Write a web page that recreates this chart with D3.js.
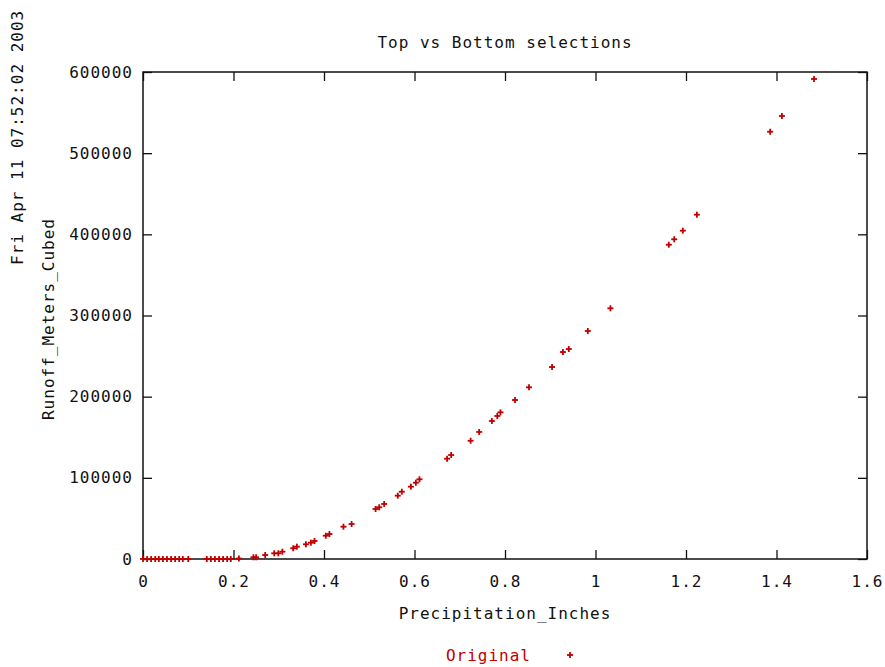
<!DOCTYPE html>
<html>
<head>
<meta charset="utf-8">
<script src="https://cdn.jsdelivr.net/npm/d3@7"></script>
<style>
    body { margin: 0; background: #fff; }
    svg text { font-family: "DejaVu Sans Mono", "Liberation Mono", monospace; font-size: 16px; letter-spacing: 1px; fill: #111; }
</style>
</head>
<body>
<svg id="chart" width="885" height="667"></svg>
<script>
// precipitation (inches) and runoff (m^3)
const precipInches = [
    0, 0.009, 0.018, 0.027, 0.035, 0.044, 0.053, 0.062, 0.071, 0.080, 0.088, 0.100,
    0.141, 0.150, 0.159, 0.168, 0.177, 0.186, 0.194, 0.212,
    0.244, 0.250, 0.270, 0.290, 0.299, 0.308, 0.332, 0.340, 0.360, 0.371, 0.379,
    0.404, 0.412, 0.443, 0.461, 0.514, 0.522, 0.533,
    0.563, 0.572, 0.592, 0.603, 0.611, 0.672, 0.681, 0.724, 0.743, 0.771, 0.783, 0.790,
    0.822, 0.853, 0.904, 0.928, 0.941, 0.983, 1.033,
    1.162, 1.174, 1.193, 1.224, 1.386, 1.412, 1.483
];
const runoffCubed = [
    0, 0, 0, 0, 0, 0, 0, 0, 0, 0, 0, 0,
    0, 0, 0, 0, 0, 0, 0, 600,
    2100, 2100, 4900, 7000, 7000, 9000, 13200, 15200, 18100, 20100, 22200,
    28700, 30800, 39800, 43100, 61600, 63700, 67800,
    78000, 82900, 89100, 94000, 98200, 123600, 128100, 145700, 156500, 170000, 176200, 180700,
    195900, 211500, 236500, 255000, 258700, 280900, 308900,
    387200, 393900, 404500, 424200, 526400, 545800, 591400
];
const xTicks = [0, 0.2, 0.4, 0.6, 0.8, 1, 1.2, 1.4, 1.6];
const yTicks = [0, 100000, 200000, 300000, 400000, 500000, 600000];

const titleText = 'Top vs Bottom selections';
const xLabel = 'Precipitation_Inches';
const yLabel = 'Runoff_Meters_Cubed';
const dateText = 'Fri Apr 11 07:52:02 2003';
const seriesName = 'Original';

const red = '#c00000';
const plotLeft = 143, plotRight = 867, plotTop = 72, plotBottom = 559;

const svg = d3.select('#chart');
const x = d3.scaleLinear().domain([0, 1.6]).range([plotLeft, plotRight]);
const y = d3.scaleLinear().domain([0, 600000]).range([plotBottom, plotTop]);

// tick marks go inward on all four sides
const tickLen = 9;
const axisStyle = g => {
    g.select('.domain').remove();
    g.selectAll('.tick line').attr('stroke', '#111').attr('stroke-width', 1.3);
};

svg.append('g')
    .attr('transform', `translate(0,${plotBottom})`)
    .call(d3.axisBottom(x).tickValues(xTicks).tickSize(-tickLen).tickPadding(14).tickFormat(d3.format('')))
    .call(axisStyle)
    .selectAll('text').attr('font-size', null).attr('font-family', null).attr('dy', '0.9em');

svg.append('g')
    .attr('transform', `translate(0,${plotTop})`)
    .call(d3.axisTop(x).tickValues(xTicks).tickSize(-tickLen).tickFormat(''))
    .call(axisStyle);

svg.append('g')
    .attr('transform', `translate(${plotLeft},0)`)
    .call(d3.axisLeft(y).tickValues(yTicks).tickSize(-tickLen).tickPadding(10).tickFormat(d3.format('d')))
    .call(axisStyle)
    .selectAll('text').attr('font-size', null).attr('font-family', null);

svg.append('g')
    .attr('transform', `translate(${plotRight},0)`)
    .call(d3.axisRight(y).tickValues(yTicks).tickSize(-tickLen).tickFormat(''))
    .call(axisStyle);

svg.append('rect')
    .attr('x', plotLeft).attr('y', plotTop)
    .attr('width', plotRight - plotLeft).attr('height', plotBottom - plotTop)
    .attr('fill', 'none').attr('stroke', '#111').attr('stroke-width', 1.5);

// plus markers
const plus = (g, r) => {
    g.append('line').attr('x1', -r).attr('x2', r).attr('y1', 0).attr('y2', 0);
    g.append('line').attr('x1', 0).attr('x2', 0).attr('y1', -r).attr('y2', r);
};

const pts = svg.append('g')
    .attr('stroke', red).attr('stroke-width', 1.8)
    .selectAll('g')
    .data(precipInches.map((p, i) => [p, runoffCubed[i]]))
    .join('g')
    .attr('transform', d => `translate(${x(d[0])},${y(d[1])})`);
pts.each(function() { plus(d3.select(this), 3); });

// titles
svg.append('text')
    .attr('x', 505).attr('y', 48)
    .attr('text-anchor', 'middle')
    .text(titleText);

svg.append('text')
    .attr('x', 505).attr('y', 619)
    .attr('text-anchor', 'middle')
    .text(xLabel);

svg.append('text')
    .attr('transform', 'translate(54,319) rotate(-90)')
    .attr('text-anchor', 'middle')
    .text(yLabel);

svg.append('text')
    .attr('transform', 'translate(23,265) rotate(-90)')
    .attr('text-anchor', 'start')
    .text(dateText);

// legend
svg.append('text')
    .attr('x', 531).attr('y', 661)
    .attr('text-anchor', 'end')
    .style('fill', red)
    .text(seriesName);

const legendMark = svg.append('g')
    .attr('stroke', red).attr('stroke-width', 1.8)
    .attr('transform', 'translate(570,655)');
plus(legendMark, 3);
</script>
</body>
</html>
